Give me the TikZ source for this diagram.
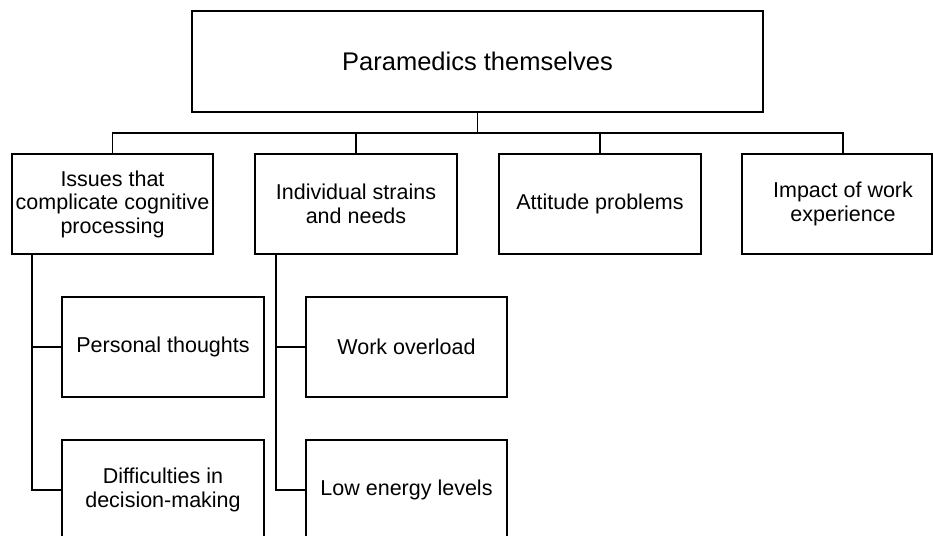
\documentclass[tikz,border=0pt]{standalone}
\usepackage{fontspec}
\setmainfont{Liberation Sans}
\begin{document}
\begin{tikzpicture}[x=1pt,y=-1pt,
  box/.style={draw=black,line width=1.8pt,rectangle,inner sep=0pt,align=center,
    font=\fontsize{21.5}{23.5}\selectfont},
  txt/.style={inner sep=0pt,align=center,font=\fontsize{21.5}{23.5}\selectfont},
  conn/.style={draw=black,line width=1.8pt}]
\useasboundingbox (0,0) rectangle (933,535);
\node[box,minimum width=571pt,minimum height=101pt,font=\fontsize{25.5}{28}\selectfont] (top) at (477.5,61.5) {Paramedics themselves};
\coordinate (bar) at (0,133);
\node[box,minimum width=201pt,minimum height=100pt] (b1) at (112.5,204) {Issues that\\complicate cognitive\\processing};
\node[box,minimum width=202pt,minimum height=100pt] (b2) at (356,204) {Individual strains\\and needs};
\node[box,minimum width=202pt,minimum height=100pt] (b3) at (600,204) {Attitude problems};
\node[box,minimum width=190pt,minimum height=100pt] (b4) at (837,204) {};
\node[txt] (t4) at (843,204) {Impact of work\\experience};
\node[box,minimum width=202pt,minimum height=100pt] (c1) at (163,347) {Personal thoughts};
\node[box,minimum width=202pt,minimum height=100pt] (c2) at (163,490) {Difficulties in\\decision-making};
\node[box,minimum width=201pt,minimum height=100pt] (d1) at (406.5,347) {Work overload};
\node[box,minimum width=201pt,minimum height=100pt] (d2) at (406.5,490) {Low energy levels};
\coordinate (tr1) at (32,0);
\coordinate (tr2) at (276,0);
\draw[conn] (top.south) -- (top.south |- bar);
\draw[conn] (b1.north) -- (b1.north |- bar) -- (t4 |- bar) -- (t4 |- b4.north);
\draw[conn] (b2.north) -- (b2.north |- bar);
\draw[conn] (b3.north) -- (b3.north |- bar);
\draw[conn] (tr1 |- b1.south) -- (tr1 |- c2.west) -- (c2.west);
\draw[conn] (tr1 |- c1.west) -- (c1.west);
\draw[conn] (tr2 |- b2.south) -- (tr2 |- d2.west) -- (d2.west);
\draw[conn] (tr2 |- d1.west) -- (d1.west);
\end{tikzpicture}
\end{document}
